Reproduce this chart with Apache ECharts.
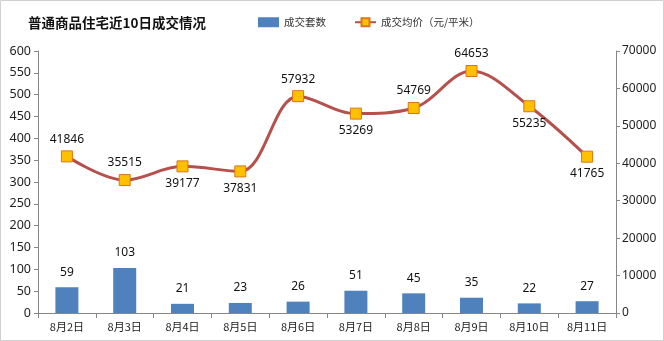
<!DOCTYPE html>
<html><head><meta charset="utf-8">
<script src="https://cdn.jsdelivr.net/npm/echarts@6/dist/echarts.min.js"></script>
<style>html,body{margin:0;padding:0;background:#fff;}#c{width:664px;height:341px;}</style>
</head><body><div id="c"></div>
<script>
const categories = ['8月2日','8月3日','8月4日','8月5日','8月6日','8月7日','8月8日','8月9日','8月10日','8月11日'];
const dealCounts = [59,103,21,23,26,51,45,35,22,27];
const avgPrices = [41846,35515,39177,37831,57932,53269,54769,64653,55235,41765];
const priceLabelPos = ['top','top','bottom','bottom','top','bottom','top','top','bottom','bottom'];

const chart = echarts.init(document.getElementById('c'));
const font = "'Noto Sans CJK SC', sans-serif";
const numFont = "'Noto Sans', sans-serif";
const axisCol = '#868686';
chart.setOption({
  animation:false,
  textStyle:{fontFamily:font},
  graphic:[{type:'rect',shape:{x:0.5,y:0.5,width:663,height:340},style:{fill:'none',stroke:'#d0d0d0',lineWidth:1}}],
  title:{text:'普通商品住宅近10日成交情况',left:23,top:11,textStyle:{fontSize:13.5,fontWeight:'bold',color:'#111',fontFamily:font}},
  legend:{left:253,top:12,itemGap:28,itemWidth:21,itemHeight:10,textStyle:{fontSize:10.5,color:'#333',fontFamily:font},
    data:[{name:'成交套数',icon:'rect'},{name:'成交均价（元/平米）'}]},
  grid:{left:38,right:48,top:51,bottom:28},
  xAxis:{type:'category',data:categories,
    axisLine:{lineStyle:{color:axisCol}},
    axisTick:{show:true,alignWithLabel:false,length:5,lineStyle:{color:axisCol}},
    axisLabel:{color:'#222',fontSize:11,margin:8,fontFamily:font}},
  yAxis:[
    {type:'value',min:0,max:600,interval:50,splitLine:{show:false},
     axisLine:{show:true,lineStyle:{color:axisCol}},axisTick:{show:true,length:4,lineStyle:{color:axisCol}},
     axisLabel:{color:'#222',fontSize:12.5,margin:7,fontFamily:numFont}},
    {type:'value',min:0,max:70000,interval:10000,splitLine:{show:false},
     axisLine:{show:true,lineStyle:{color:axisCol}},axisTick:{show:true,length:4,lineStyle:{color:axisCol}},
     axisLabel:{color:'#222',fontSize:12,margin:6,fontFamily:numFont,formatter:v=>String(v)}}
  ],
  series:[
    {name:'成交套数',type:'bar',data:dealCounts,barWidth:23,itemStyle:{color:'#4F81BD'},
     label:{show:true,position:'top',distance:9,color:'#111',fontSize:12,fontFamily:numFont}},
    {name:'成交均价（元/平米）',type:'line',yAxisIndex:1,smooth:0.35,
     data:avgPrices.map((v,i)=>({value:v,label:{position:priceLabelPos[i]}})),
     symbol:'rect',symbolSize:11,lineStyle:{color:'#B5504D',width:3},
     itemStyle:{color:'#FFC000',borderColor:'#D9761A',borderWidth:1},
     label:{show:true,distance:5,color:'#111',fontSize:12,fontFamily:numFont}}
  ]
});
</script></body></html>
